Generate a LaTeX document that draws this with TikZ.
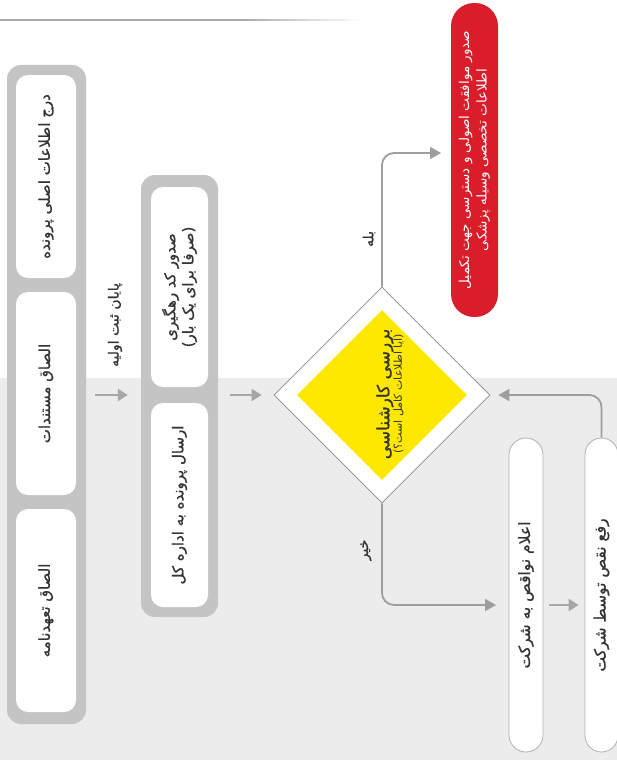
\documentclass[tikz,border=0pt]{standalone}
\usepackage{fontspec}
\usetikzlibrary{shapes.geometric,arrows.meta,calc}
\TeXXeTstate=1
\newfontfamily\pfont[Script=Arabic]{DejaVu Sans}
\newfontfamily\pfontm[Script=Arabic, FakeBold=0.9]{DejaVu Sans}
\newcommand{\prs}[1]{\beginR #1\endR}
\definecolor{bggray}{HTML}{EBECEB}
\definecolor{boxgray}{HTML}{C4C4C4}
\definecolor{topgray}{HTML}{ABABAB}
\definecolor{conngray}{HTML}{9E9E9E}
\definecolor{arrgray}{HTML}{A6A6A6}
\definecolor{redbox}{HTML}{D91D2B}
\definecolor{yel}{HTML}{FFE800}
\definecolor{diaborder}{HTML}{8A8A8A}
\definecolor{txt}{HTML}{333333}
\definecolor{pillborder}{HTML}{B0B0B0}
\tikzset{
  outerbox/.style={fill=boxgray, rounded corners=14pt, rotate=90, inner sep=0pt},
  innerbox/.style={fill=white, rounded corners=12pt, rotate=90, inner sep=0pt, text=txt, align=center,
    font=\pfontm\fontsize{15}{18}\selectfont},
  pillbox/.style={fill=white, draw=pillborder, line width=0.8pt, rotate=90, inner sep=0pt, text=txt,
    font=\pfontm\fontsize{15.5}{18}\selectfont},
  redpill/.style={fill=redbox, rotate=90, inner sep=0pt, text=white, align=center,
    rounded corners=23pt, font=\pfont\fontsize{13.5}{17.5}\selectfont},
  lbl/.style={rotate=90, text=txt, inner sep=1pt, font=\pfontm\fontsize{14}{16}\selectfont},
  conn/.style={draw=conngray, line width=1.8pt, rounded corners=12pt, -{Triangle[length=11pt,width=12pt]}},
  arr/.style={draw=arrgray, line width=2.2pt, -{Triangle[length=10pt,width=12pt]}},
}
\begin{document}
\begin{tikzpicture}[x=1pt,y=-1pt]
\useasboundingbox (0,0) rectangle (617,760);
\fill[white] (0,0) rectangle (617,760);
\fill[bggray] (0,378) rectangle (617,760);
% top rule
\fill[topgray] (0,19) rectangle (240,21.5);
\foreach \i in {0,...,23}
  \fill[topgray, opacity={1-\i/24}] ({240+5*\i},19) rectangle +(5,2.5);

% column 1
\node[outerbox, minimum width=659pt, minimum height=79pt] (outer1) at (46.5,394.5) {};
\node[innerbox, minimum width=203pt, minimum height=60pt] (boxA) at (46,176.5) {\prs{درج اطلاعات اصلی پرونده}};
\node[innerbox, minimum width=203pt, minimum height=60pt] (boxB) at (46,393.5) {\prs{الصاق مستندات}};
\node[innerbox, minimum width=203pt, minimum height=60pt] (boxC) at (46,610.5) {\prs{الصاق تعهدنامه}};

\node[lbl] (endreg) at (115,325) {\prs{پایان ثبت اولیه}};

% column 2
\node[outerbox, minimum width=442pt, minimum height=77pt] (outer2) at (179.5,396) {};
\node[innerbox, minimum width=200pt, minimum height=57pt] (boxD) at (179.5,287) {\prs{صدور کد رهگیری}\\\prs{(صرفا برای یک بار)}};
\node[innerbox, minimum width=204pt, minimum height=57pt] (boxE) at (179.5,505) {\prs{ارسال پرونده به اداره کل}};

% decision
\node[diamond, draw=diaborder, line width=0.8pt, fill=white, minimum width=216pt, minimum height=216pt, inner sep=0pt] (dia) at (382,395) {};
\node[diamond, fill=yel, minimum width=170pt, minimum height=170pt, inner sep=0pt] (diay) at (382,395) {};
\node[rotate=90, text=txt, align=center, inner sep=0pt] (dtext) at (390,394)
  {\pfontm\fontsize{17}{19}\selectfont\prs{بررسی کارشناسی}\\[-3pt]
   \pfont\fontsize{11}{13}\selectfont\prs{(آیا اطلاعات کامل است؟)}};

% outcome nodes
\node[redpill, minimum width=314pt, minimum height=47pt] (red) at (474.5,160)
  {\prs{صدور موافقت اصولی و دسترسی جهت تکمیل}\\\prs{اطلاعات تخصصی وسیله پزشکی}};
\node[pillbox, rounded corners=17pt, minimum width=314pt, minimum height=34pt] (F) at (526,595) {\prs{اعلام نواقص به شرکت}};
\node[pillbox, rounded corners=16.5pt, minimum width=314pt, minimum height=33pt] (G) at (601.5,595) {\prs{رفع نقص توسط شرکت}};

\node[lbl] (yes) at (369,239) {\prs{بله}};
\node[lbl] (no) at (366,550) {\prs{خیر}};

\coordinate (yesend) at (441,153);
\coordinate (noend) at (496,605);

% connectors
\draw[arr, shorten <=9pt, shorten >=13pt] (outer1.south |- dia.center) -- (outer2.north |- dia.center);
\draw[arr, shorten <=12pt, shorten >=12pt] (outer2.south |- dia.center) -- (dia.west);
\draw[conn] (dia.north) |- (yesend);
\draw[conn] (dia.south) |- (noend);
\draw[arr, shorten <=6pt, shorten >=6pt] (F.south |- noend) -- (G.north |- noend);
\draw[conn, shorten >=8pt] (G.east) |- (dia.east);
\end{tikzpicture}
\end{document}
